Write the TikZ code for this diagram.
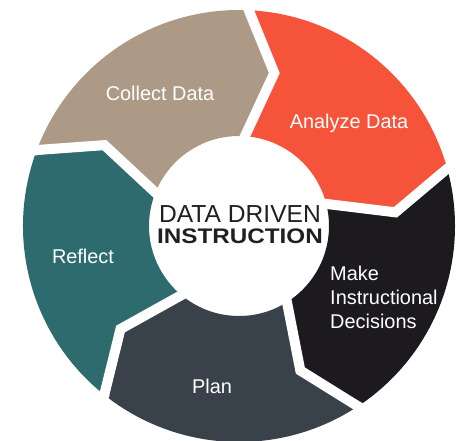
\documentclass[tikz,border=0pt]{standalone}
\usepackage{fontspec}
\setmainfont{Liberation Sans}
\definecolor{collectcol}{RGB}{172,154,134}
\definecolor{analyzecol}{RGB}{245,83,58}
\definecolor{decidecol}{RGB}{28,26,30}
\definecolor{plancol}{RGB}{57,65,75}
\definecolor{reflectcol}{RGB}{46,107,110}
\definecolor{titlecol}{RGB}{35,31,32}
\begin{document}
\begin{tikzpicture}[x=0.03cm, y=0.03cm,
        steplabel/.style={text=white, inner sep=0pt, font=\fontsize{17}{20.5}\selectfont},
        stepgap/.style={draw=white, line width=0.3cm}]
                \useasboundingbox (-239,-215) rectangle (227,226);

                % the five arrows, clockwise
                \fill[collectcol] (161:216) arc[start angle=161, end angle=89, radius=216] -- (77:157) -- (89:90)
                        arc[start angle=89, end angle=161, radius=90] -- (149:157) -- cycle;
                \fill[analyzecol] (89:216) arc[start angle=89, end angle=17, radius=216] -- (5:157) -- (17:90)
                        arc[start angle=17, end angle=89, radius=90] -- (77:157) -- cycle;
                \fill[decidecol] (17:216) arc[start angle=17, end angle=-55, radius=216] -- (-67:157) -- (-55:90)
                        arc[start angle=-55, end angle=17, radius=90] -- (5:157) -- cycle;
                \fill[plancol] (-55:216) arc[start angle=-55, end angle=-127, radius=216] -- (-139:157) -- (-127:90)
                        arc[start angle=-127, end angle=-55, radius=90] -- (-67:157) -- cycle;
                \fill[reflectcol] (233:216) arc[start angle=233, end angle=161, radius=216] -- (149:157) -- (161:90)
                        arc[start angle=161, end angle=233, radius=90] -- (221:157) -- cycle;

                % white gaps between them
                \draw[stepgap] (89:230) -- (77:157) -- (89:80);
                \draw[stepgap] (17:230) -- (5:157) -- (17:80);
                \draw[stepgap] (-55:230) -- (-67:157) -- (-55:80);
                \draw[stepgap] (-127:230) -- (-139:157) -- (-127:80);
                \draw[stepgap] (161:230) -- (149:157) -- (161:80);

                \node (title1) at (1,4) [anchor=base, text=titlecol, font=\fontsize{21}{21}\selectfont] {DATA DRIVEN};
                \node (title2) at (1,-17) [anchor=base, text=titlecol, xscale=1.15, font=\fontsize{18}{18}\selectfont\bfseries] {INSTRUCTION};

                \node (collect) at (-79,126) [steplabel, anchor=base] {Collect Data};
                \node (analyze) at (110,98) [steplabel, anchor=base] {Analyze Data};
                \node (decide) at (91,-71) [steplabel, anchor=west, align=left] {Make\\Instructional\\Decisions};
                \node (plan) at (-27,-167) [steplabel, anchor=base] {Plan};
                \node (reflect) at (-156,-37) [steplabel, anchor=base] {Reflect};
            \end{tikzpicture}
\end{document}
